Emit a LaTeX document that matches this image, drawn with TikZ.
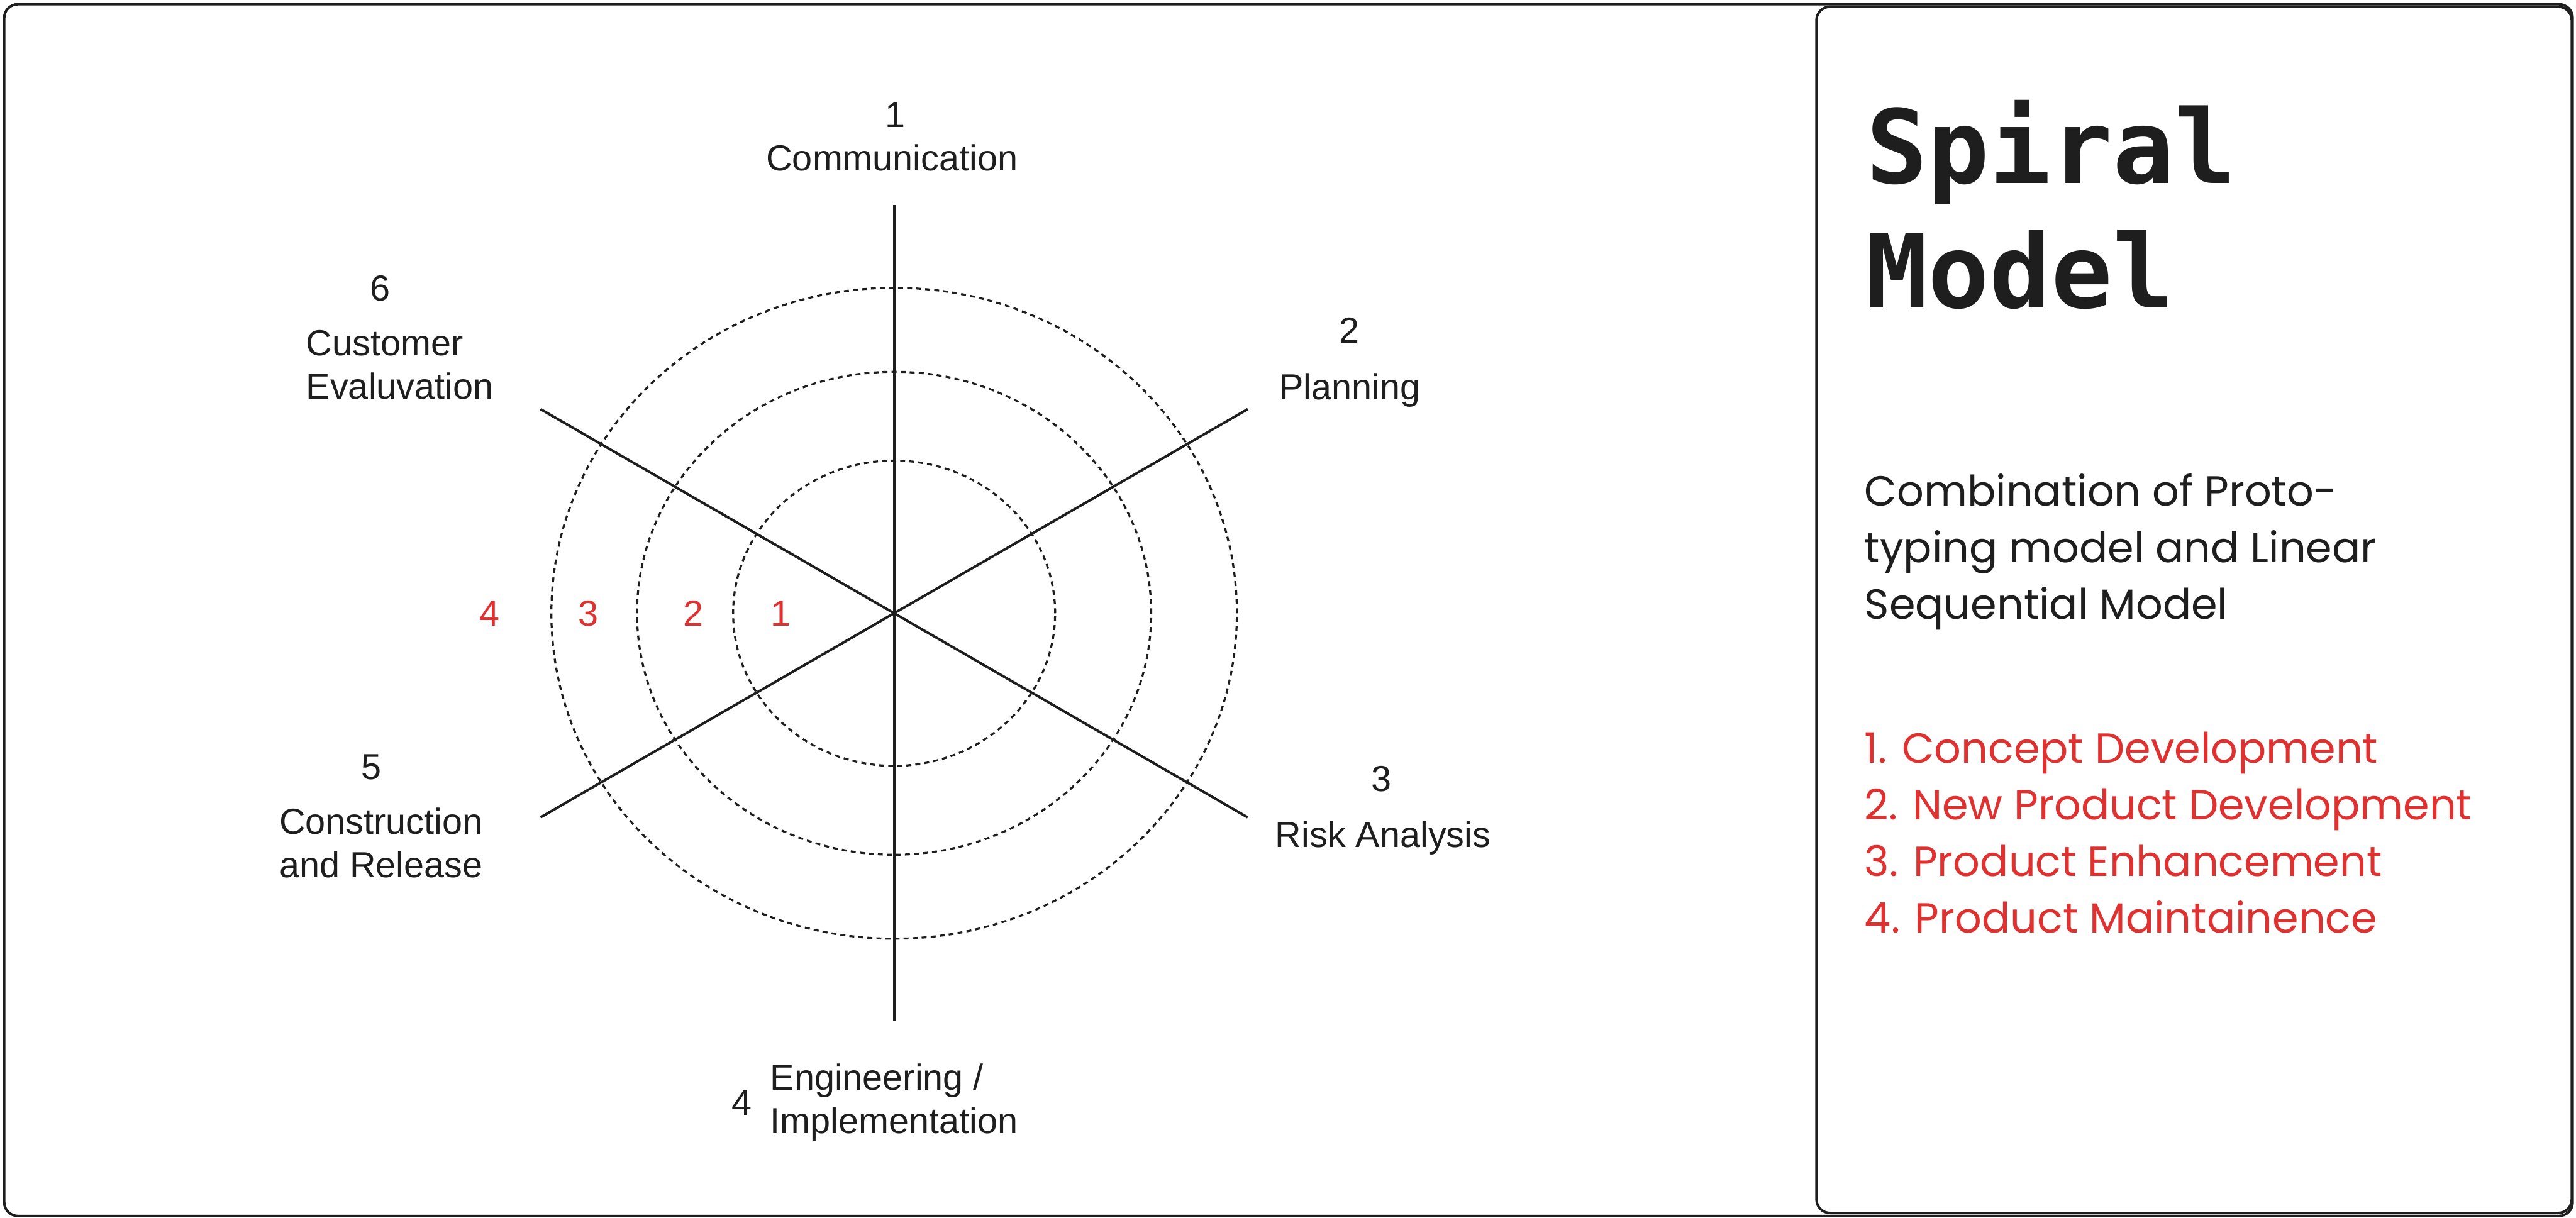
\documentclass[tikz,border=0pt]{standalone}
\usepackage{fontspec}
\setmainfont{Liberation Sans}
\newfontfamily\titlefont{DejaVu Sans Mono}
\newfontfamily\handfont{Poppins}
\usetikzlibrary{positioning}
\definecolor{ink}{HTML}{1E1E1E}
\definecolor{mark}{HTML}{E03131}
\tikzset{
  frame/.style = {draw=ink, line width=0.55pt, rounded corners=3pt},
  spoke/.style = {draw=ink, line width=0.55pt},
  ring/.style  = {draw=ink, line width=0.45pt, dash pattern=on 1.1pt off 0.9pt},
  lbl/.style   = {font=\fontsize{8pt}{9.6pt}\selectfont, text=ink, inner sep=0pt},
  num/.style   = {lbl},
  rnum/.style  = {lbl, text=mark},
  title/.style = {font=\titlefont\bfseries\fontsize{22.6pt}{27.5pt}\selectfont,
                  text=ink, align=left, inner sep=0pt},
  hand/.style  = {font=\handfont\fontsize{9.3pt}{12.5pt}\selectfont, text=ink,
                  align=left, inner sep=0pt},
}

\begin{document}
\begin{tikzpicture}
\useasboundingbox (-6.942,-4.696) rectangle (13.058,4.762);
\draw[frame] (-6.909,-4.680) rectangle (13.032,4.729);
\draw[frame] (7.161,-4.657) rectangle (13.025,4.710);

% rings
\coordinate (c) at (0,0);
\foreach \rx/\ry in {1.250/1.185, 1.996/1.875, 2.661/2.527}
  \draw[ring] (c) ellipse [x radius=\rx, y radius=\ry];

% spokes
\foreach \a/\n in {90/top,30/ne,330/se,270/bot,210/sw,150/nw}
  \coordinate (\n) at (\a:3.17);
\draw[spoke] (top) -- (bot);
\draw[spoke] (ne) -- (sw);
\draw[spoke] (nw) -- (se);

% phases
\node[lbl] (lab1) at (-0.016,3.538) {Communication};
\node[num] (num1) at (0.010,3.868) {1};
\node[lbl] (lab2) at (3.538,1.734) {Planning};
\node[num] (num2) at (3.535,2.199) {2};
\node[lbl] (lab3) at (3.796,-1.744) {Risk Analysis};
\node[num] (num3) at (3.783,-1.286) {3};
\node[lbl, anchor=west, align=left] (lab4) at (-0.969,-3.800)
     {Engineering /\\Implementation};
\node[num, left=1.3mm of lab4] (num4) {4};
\node[lbl, align=center] (lab5) at (-3.983,-1.784) {Construction\\and Release};
\node[num] (num5) at (-4.058,-1.195) {5};
\node[lbl, anchor=west, align=left] (lab6) at (-4.572,1.928)
     {Customer\\Evaluvation};
\node[num] (num6) at (-3.990,2.523) {6};

% loop numbers
\foreach \x/\k in {-0.880/1,-1.558/2,-2.376/3,-3.142/4}
  \node[rnum] (loop\k) at (\x,0) {\k};

% side panel
\node[title, anchor=north west] (title) at (7.54,3.99) {Spiral\\Model};
\node[hand, anchor=west] (desc) at (7.528,0.476)
     {Combination of Proto-\\typing model and Linear\\Sequential Model};
\node[hand, text=mark, anchor=west] (kinds) at (7.528,-1.705)
     {1. Concept Development\\2. New Product Development\\
      3. Product Enhancement\\4. Product Maintainence};
\end{tikzpicture}
\end{document}
